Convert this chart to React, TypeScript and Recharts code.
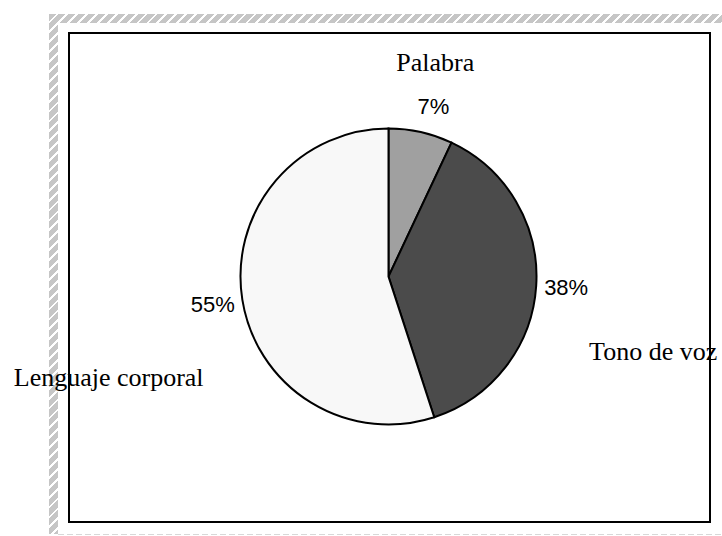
import { PieChart, Pie, Cell } from "recharts";

const categories = ["Palabra", "Tono de voz", "Lenguaje corporal"];
const shares = [7, 38, 55];
const sliceColors = ["#a0a0a0", "#4b4b4b", "#f8f8f8"];

const data = categories.map((name, i) => ({ name, value: shares[i] }));

const RADIAN = Math.PI / 180;
// small hand nudges for the percentage labels and where the caption sits relative to it
const labelNudge = [
  { dx: 6, dy: 4 },
  { dx: 0, dy: 0 },
  { dx: 0, dy: 0 },
];
const captionShift = [
  { dx: 2, dy: -44 },
  { dx: 87, dy: 64 },
  { dx: -104, dy: 73 },
];

function renderLabel(props: any) {
  const { cx, cy, midAngle, outerRadius, index, value, name } = props;
  const r = outerRadius + 30;
  const x = cx + r * Math.cos(-midAngle * RADIAN) + labelNudge[index].dx;
  const y = cy + r * Math.sin(-midAngle * RADIAN) + labelNudge[index].dy;
  const shift = captionShift[index];
  return (
    <g>
      <text
        x={x}
        y={y}
        textAnchor="middle"
        dominantBaseline="central"
        fontFamily="'Liberation Sans', Arial, sans-serif"
        fontSize={22}
        fill="#000"
      >
        {`${value}%`}
      </text>
      <text
        x={x + shift.dx}
        y={y + shift.dy}
        textAnchor="middle"
        dominantBaseline="central"
        fontFamily="'Liberation Serif', 'Times New Roman', serif"
        fontSize={26}
        fill="#000"
      >
        {name}
      </text>
    </g>
  );
}

const hatch = "repeating-linear-gradient(135deg, #c6c6c6 0px, #c6c6c6 5px, #ffffff 5px, #ffffff 7px)";
const faintHatch = "repeating-linear-gradient(90deg, #d8d8d8 0px, #d8d8d8 6px, #ffffff 6px, #ffffff 9px)";

export default function App() {
  return (
    <div style={{ position: "absolute", left: 0, top: 0, width: 722, height: 536, background: "#fff", overflow: "hidden" }}>
      <div style={{ position: "absolute", left: 49, top: 14, width: 700, height: 520, background: hatch }} />
      <div style={{ position: "absolute", left: 58, top: 23, width: 700, height: 520, background: "#fff" }} />
      <div style={{ position: "absolute", left: 58, top: 534, width: 700, height: 1, background: faintHatch }} />
      <div
        style={{
          position: "absolute",
          left: 68,
          top: 32,
          width: 643,
          height: 491,
          border: "2px solid #000",
          boxSizing: "border-box",
          background: "#fff",
        }}
      />
      <div style={{ position: "absolute", left: 0, top: 0 }}>
        <PieChart width={722} height={536} margin={{ top: 0, right: 0, bottom: 0, left: 0 }}>
          <Pie
            data={data}
            dataKey="value"
            nameKey="name"
            cx={388.5}
            cy={276.5}
            outerRadius={148}
            startAngle={90}
            endAngle={-270}
            stroke="#000"
            strokeWidth={2}
            label={renderLabel}
            labelLine={false}
            isAnimationActive={false}
          >
            {data.map((d, i) => (
              <Cell key={d.name} fill={sliceColors[i]} />
            ))}
          </Pie>
        </PieChart>
      </div>
    </div>
  );
}
